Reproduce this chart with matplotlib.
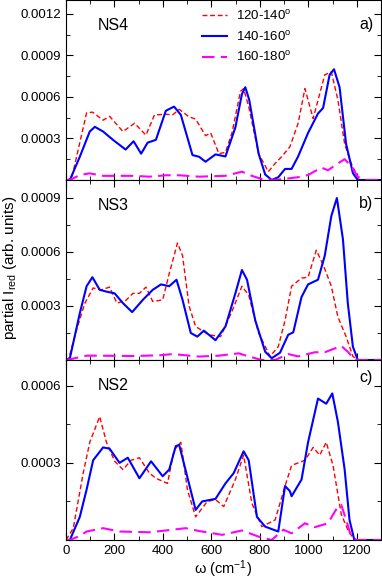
import matplotlib
matplotlib.use("Agg")
import matplotlib.pyplot as plt
from matplotlib.ticker import MultipleLocator, FuncFormatter

# ---- Panel a (NS4) ----
a_red_w = [0, 23, 85, 110, 153, 180, 235, 283, 330, 365, 412, 440, 467, 508, 535, 576, 597, 631, 658, 685, 720, 733, 754, 795, 835, 863, 890, 924, 958, 986, 1020, 1040, 1068, 1095, 1122, 1150, 1177, 1204, 1220, 1300]
a_red_v = [0, 0.00001, 0.000485, 0.00049, 0.000432, 0.00046, 0.00035, 0.00041, 0.000324, 0.00047, 0.000475, 0.00047, 0.00051, 0.000456, 0.00044, 0.00032, 0.00034, 0.00019, 0.0002, 0.00034, 0.00064, 0.00066, 0.00053, 0.00019, 0.00006, 0.00012, 0.000168, 0.00024, 0.00041, 0.00066, 0.000444, 0.000576, 0.00076, 0.00078, 0.00058, 0.00026, 0.00012, 0.00002, 0, 0]
a_blue_w = [0, 16, 57, 98, 119, 153, 194, 246, 279, 310, 337, 371, 412, 446, 474, 522, 549, 576, 617, 658, 699, 726, 740, 756, 795, 822, 849, 876, 904, 931, 958, 999, 1040, 1061, 1088, 1106, 1129, 1156, 1184, 1204, 1300]
a_blue_v = [0, 0, 0.000168, 0.00035, 0.000384, 0.00035, 0.00029, 0.00022, 0.00028, 0.00019, 0.00027, 0.00029, 0.0005, 0.00053, 0.00047, 0.00018, 0.000168, 0.000132, 0.000185, 0.00017, 0.00038, 0.00062, 0.00067, 0.00058, 0.00019, 0.00004, 0.0, 0.00002, 0.00008, 0.00008, 0.00017, 0.00034, 0.00048, 0.00052, 0.00076, 0.0008, 0.00067, 0.00026, 0.00005, 0, 0]
a_mag_w = [0, 16, 57, 98, 153, 276, 344, 412, 467, 549, 658, 726, 767, 808, 863, 958, 999, 1054, 1081, 1122, 1150, 1177, 1204, 1230, 1300]
a_mag_v = [0, 0, 0.000036, 0.000048, 0.00003, 0.00003, 0.000024, 0.000034, 0.000034, 0.000024, 0.00003, 0.00006, 0.00003, 0.000007, 0, 0.00002, 0.000036, 0.00009, 0.00007, 0.00012, 0.00015, 0.0001, 0.000024, 0, 0]

# ---- Panel b (NS3) ----
b_red_w = [0, 10, 44, 78, 112, 146, 180, 210, 246, 276, 303, 330, 358, 399, 426, 460, 481, 508, 535, 590, 638, 685, 726, 754, 795, 842, 876, 904, 931, 972, 999, 1033, 1061, 1095, 1122, 1156, 1184, 1204, 1300]
b_red_v = [0, 0, 0.00017, 0.000316, 0.0004, 0.00039, 0.000405, 0.000316, 0.00033, 0.00037, 0.00037, 0.000405, 0.000325, 0.000334, 0.00048, 0.00065, 0.00058, 0.0003, 0.000186, 0.00014, 0.00013, 0.00027, 0.00041, 0.00036, 0.00015, 0.00002, 0.000074, 0.00022, 0.00041, 0.000455, 0.00046, 0.00061, 0.00053, 0.00041, 0.00024, 0.00013, 0.00002, 0, 0]
b_blue_w = [0, 16, 57, 85, 109, 139, 167, 201, 235, 273, 317, 358, 392, 426, 456, 481, 515, 542, 569, 617, 658, 699, 726, 747, 781, 822, 849, 883, 917, 938, 972, 999, 1040, 1068, 1095, 1118, 1143, 1163, 1184, 1204, 1300]
b_blue_v = [0, 0.00001, 0.00026, 0.00041, 0.00046, 0.00039, 0.00038, 0.00037, 0.000316, 0.000266, 0.000334, 0.00039, 0.00042, 0.00041, 0.000446, 0.000334, 0.00015, 0.00013, 0.000163, 0.00011, 0.000186, 0.00037, 0.0005, 0.000446, 0.00022, 0.000046, 0.00001, 0.00004, 0.00014, 0.000154, 0.00035, 0.00042, 0.000446, 0.00058, 0.0008, 0.0009, 0.00067, 0.000316, 0.000074, 0, 0]
b_mag_w = [0, 16, 85, 139, 276, 385, 440, 549, 630, 713, 754, 808, 863, 917, 958, 1027, 1068, 1136, 1163, 1190, 1204, 1300]
b_mag_v = [0, 0.000004, 0.000024, 0.000024, 0.000022, 0.000026, 0.000033, 0.000019, 0.000024, 0.000037, 0.00002, 0, 0, 0.000033, 0.00002, 0.000043, 0.000043, 0.000078, 0.000046, 0.000004, 0, 0]

# ---- Panel c (NS2) ----
c_red_w = [0, 30, 71, 98, 139, 167, 201, 235, 269, 303, 344, 371, 419, 446, 474, 501, 535, 583, 617, 651, 699, 733, 767, 808, 863, 904, 931, 986, 1020, 1047, 1074, 1102, 1136, 1163, 1190, 1300]
c_red_v = [0, 0.000046, 0.00026, 0.00038, 0.00048, 0.00038, 0.000306, 0.000274, 0.00031, 0.00032, 0.00026, 0.00024, 0.00022, 0.00035, 0.00038, 0.000196, 0.00009, 0.00015, 0.000157, 0.00013, 0.000235, 0.00033, 0.000143, 0.000052, 0.000078, 0.00021, 0.00029, 0.00031, 0.00036, 0.00033, 0.00038, 0.00029, 0.0001, 0.00004, 0, 0]
c_blue_w = [0, 16, 57, 85, 112, 153, 180, 221, 255, 303, 351, 399, 426, 453, 467, 494, 535, 562, 617, 658, 692, 733, 754, 788, 822, 876, 904, 924, 931, 972, 999, 1040, 1074, 1099, 1122, 1150, 1170, 1190, 1300]
c_blue_v = [0, 0, 0.00009, 0.000196, 0.00031, 0.00036, 0.000355, 0.0003, 0.00032, 0.00024, 0.000306, 0.000248, 0.000274, 0.000365, 0.00037, 0.00027, 0.000117, 0.00015, 0.00016, 0.00022, 0.00026, 0.000345, 0.00031, 0.00009, 0.000052, 0.000033, 0.00021, 0.00019, 0.00017, 0.000235, 0.00038, 0.00055, 0.00053, 0.00057, 0.00046, 0.000274, 0.000078, 0, 0]
c_mag_w = [0, 16, 57, 85, 153, 221, 344, 412, 494, 549, 644, 726, 795, 849, 897, 931, 986, 1027, 1081, 1122, 1136, 1156, 1177, 1200, 1300]
c_mag_v = [0, 0, 0.000016, 0.000033, 0.000046, 0.000033, 0.00003, 0.000037, 0.000046, 0.000035, 0.00002, 0.000037, 0.000013, 0, 0.00004, 0.000026, 0.000065, 0.00005, 0.000065, 0.00013, 0.000137, 0.000078, 0.000013, 0, 0]

labels = ["120-140$^{\\mathrm{o}}$", "140-160$^{\\mathrm{o}}$", "160-180$^{\\mathrm{o}}$"]
names = ["NS4", "NS3", "NS2"]
tags = ["a)", "b)", "c)"]
ylims = [0.0013, 0.001, 0.0007]

panels = [
    (a_red_w, a_red_v, a_blue_w, a_blue_v, a_mag_w, a_mag_v),
    (b_red_w, b_red_v, b_blue_w, b_blue_v, b_mag_w, b_mag_v),
    (c_red_w, c_red_v, c_blue_w, c_blue_v, c_mag_w, c_mag_v),
]

plt.rcParams['font.family'] = ['Liberation Sans', 'DejaVu Sans']
plt.rcParams['mathtext.fontset'] = 'custom'
plt.rcParams['mathtext.rm'] = 'Liberation Sans'
plt.rcParams['mathtext.it'] = 'Liberation Sans:italic'

fig = plt.figure(figsize=(3.82, 5.82), dpi=100)
left, right = 66 / 382, 381 / 382
bottoms = [1 - 180 / 582, 1 - 360 / 582, 1 - 540 / 582]
h = 180 / 582
tag_y = [0.862, 0.868, 0.905]

fmt = FuncFormatter(lambda v, p: "" if abs(v) < 1e-9 else "%.4f" % v)

for i, (rw, rv, bw, bv, mw, mv) in enumerate(panels):
    ax = fig.add_axes([left, bottoms[i], right - left, h])
    l1, = ax.plot(rw, rv, color='#ff0000', lw=1.0, ls=(0, (3.5, 2)), label=labels[0])
    l2, = ax.plot(bw, bv, color='#0000ff', lw=1.5, ls='-', label=labels[1])
    l3, = ax.plot(mw, mv, color='#ff00ff', lw=1.5, ls=(0, (6, 3)), label=labels[2])
    ax.set_xlim(0, 1300)
    ax.set_ylim(0, ylims[i])
    ax.xaxis.set_major_locator(MultipleLocator(200))
    ax.xaxis.set_minor_locator(MultipleLocator(100))
    ax.yaxis.set_major_locator(MultipleLocator(0.0003))
    ax.yaxis.set_minor_locator(MultipleLocator(0.00015))
    ax.yaxis.set_major_formatter(fmt)
    ax.tick_params(which='both', direction='in', top=True, right=True, labelsize=9.5)
    ax.tick_params(which='major', length=5)
    ax.tick_params(which='minor', length=3)
    if i < 2:
        ax.tick_params(labelbottom=False)
    else:
        ax.set_xlabel("ω (cm$^{-1}$)", fontsize=10.5, labelpad=1)
    ax.text(0.10, 0.86, names[i], transform=ax.transAxes, fontsize=11.5, va='center', ha='left')
    ax.text(0.975, tag_y[i], tags[i], transform=ax.transAxes, fontsize=11.5, va='center', ha='right')
    if i == 0:
        fig.legend(handles=[l1, l2, l3], loc='upper left',
                   bbox_to_anchor=(202 / 382, 1 - 9 / 582), bbox_transform=fig.transFigure,
                   frameon=False, fontsize=9.5, handlelength=1.9, handletextpad=0.7,
                   labelspacing=0.5, borderaxespad=0.0, borderpad=0.0)

fig.text(0.026, 0.54, "partial I$_{\\mathrm{red}}$ (arb. units)", rotation=90,
         va='center', ha='center', fontsize=11)

fig.savefig("out.png", dpi=100)
